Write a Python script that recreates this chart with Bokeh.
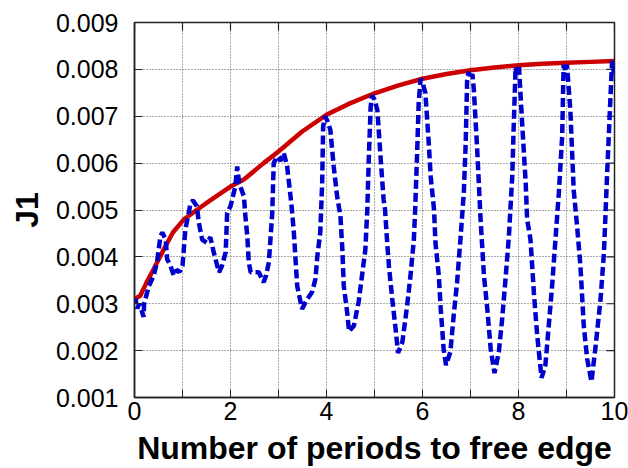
import math
from bokeh.plotting import figure
from bokeh.models import FixedTicker, PrintfTickFormatter, Range1d
from bokeh.embed import file_html
from bokeh.resources import INLINE

# ---- data ----
x_blue = [0.00, 0.02, 0.06, 0.10, 0.15, 0.19, 0.20, 0.30, 0.40, 0.47, 0.54, 0.58,
          0.65, 0.68, 0.75, 0.82, 0.88, 0.94, 1.00, 1.06, 1.13, 1.17, 1.22, 1.30,
          1.34, 1.41, 1.51, 1.58, 1.65, 1.76, 1.82, 1.90, 1.93, 2.00, 2.10, 2.14,
          2.18, 2.28, 2.31, 2.35, 2.38, 2.42, 2.59, 2.69, 2.74, 2.80, 2.87, 2.90,
          2.97, 3.04, 3.11, 3.18, 3.25, 3.28, 3.32, 3.35, 3.39, 3.46, 3.49, 3.60,
          3.70, 3.77, 3.81, 3.87, 3.91, 3.93, 3.97, 4.01, 4.08, 4.15, 4.22, 4.29,
          4.33, 4.36, 4.43, 4.47, 4.57, 4.67, 4.74, 4.81, 4.85, 4.88, 4.92, 4.95,
          5.00, 5.06, 5.13, 5.19, 5.22, 5.26, 5.30, 5.37, 5.44, 5.49, 5.58, 5.68,
          5.75, 5.82, 5.85, 5.89, 5.92, 5.96, 6.01, 6.06, 6.13, 6.17, 6.24, 6.27,
          6.34, 6.38, 6.44, 6.49, 6.58, 6.65, 6.72, 6.79, 6.86, 6.90, 6.93, 6.96,
          7.00, 7.04, 7.07, 7.14, 7.21, 7.28, 7.35, 7.42, 7.50, 7.59, 7.66, 7.73,
          7.80, 7.87, 7.90, 7.94, 7.98, 8.01, 8.08, 8.15, 8.18, 8.25, 8.32, 8.39,
          8.48, 8.56, 8.63, 8.70, 8.77, 8.84, 8.91, 8.94, 8.98, 9.01, 9.08, 9.15,
          9.22, 9.29, 9.36, 9.43, 9.52, 9.60, 9.71, 9.78, 9.85, 9.92, 9.95, 9.99]
y_blue = [0.00300, 0.00310, 0.00290, 0.00300, 0.00285, 0.00272, 0.00300, 0.00338,
          0.00360, 0.00389, 0.00444, 0.00452, 0.00437, 0.00395, 0.00381, 0.00360,
          0.00372, 0.00368, 0.00381, 0.00459, 0.00494, 0.00516, 0.00520, 0.00508,
          0.00473, 0.00437, 0.00430, 0.00442, 0.00410, 0.00367, 0.00380, 0.00410,
          0.00494, 0.00508, 0.00550, 0.00593, 0.00557, 0.00529, 0.00487, 0.00444,
          0.00389, 0.00367, 0.00367, 0.00346, 0.00360, 0.00389, 0.00494, 0.00600,
          0.00614, 0.00605, 0.00622, 0.00593, 0.00530, 0.00500, 0.00452, 0.00402,
          0.00338, 0.00303, 0.00289, 0.00310, 0.00325, 0.00353, 0.00402, 0.00452,
          0.00558, 0.00678, 0.00700, 0.00692, 0.00671, 0.00593, 0.00530, 0.00487,
          0.00416, 0.00338, 0.00282, 0.00241, 0.00253, 0.00304, 0.00360, 0.00416,
          0.00501, 0.00607, 0.00720, 0.00745, 0.00735, 0.00713, 0.00607, 0.00522,
          0.00500, 0.00437, 0.00381, 0.00310, 0.00246, 0.00195, 0.00218, 0.00296,
          0.00360, 0.00437, 0.00508, 0.00628, 0.00727, 0.00780, 0.00768, 0.00750,
          0.00643, 0.00572, 0.00501, 0.00430, 0.00360, 0.00289, 0.00204, 0.00169,
          0.00197, 0.00275, 0.00345, 0.00437, 0.00536, 0.00643, 0.00777, 0.00795,
          0.00780, 0.00790, 0.00756, 0.00628, 0.00480, 0.00360, 0.00289, 0.00204,
          0.00152, 0.00197, 0.00268, 0.00353, 0.00444, 0.00572, 0.00678, 0.00805,
          0.00790, 0.00805, 0.00678, 0.00558, 0.00480, 0.00437, 0.00324, 0.00232,
          0.00142, 0.00169, 0.00253, 0.00338, 0.00437, 0.00536, 0.00657, 0.00810,
          0.00795, 0.00810, 0.00713, 0.00543, 0.00466, 0.00381, 0.00253, 0.00183,
          0.00134, 0.00204, 0.00310, 0.00409, 0.00586, 0.00749, 0.00818, 0.00790]

x_red = [0.00, 0.12, 0.25, 0.40, 0.61, 0.80, 1.03, 1.31, 1.60, 2.00, 2.28, 2.69,
         3.00, 3.50, 4.00, 4.50, 5.00, 5.50, 6.00, 6.50, 7.00, 7.50, 8.00, 8.50,
         9.00, 9.50, 10.00]
y_red = [0.00310, 0.00317, 0.00345, 0.00374, 0.00416, 0.00452, 0.00480, 0.00501,
         0.00522, 0.00550, 0.00565, 0.00600, 0.00625, 0.00668, 0.00703, 0.00728,
         0.00749, 0.00766, 0.00780, 0.00790, 0.00798, 0.00804, 0.00809, 0.00812,
         0.00814, 0.00816, 0.00818]

x_tick_values = [0, 2, 4, 6, 8, 10]
x_tick_labels = ["0", "2", "4", "6", "8", "10"]
x_minor_ticks = [1, 3, 5, 7, 9]
y_ticks = [0.001, 0.002, 0.003, 0.004, 0.005, 0.006, 0.007, 0.008, 0.009]
x_label = "Number of periods to free edge"
y_label = "J1"

FONT = "Liberation Sans"
DARK = "#222222"

x_all = sorted(x_tick_values + x_minor_ticks)
x_min, x_max = x_all[0], x_all[-1]
y_min, y_max = y_ticks[0], y_ticks[-1]

p = figure(width=628, height=468, x_range=Range1d(x_min, x_max), y_range=Range1d(y_min, y_max),
           output_backend="svg", toolbar_location=None,
           min_border_left=134, min_border_right=14, min_border_top=22, min_border_bottom=69)
p.background_fill_color = "white"
p.border_fill_color = "white"
p.outline_line_color = DARK
p.outline_line_width = 1.5

xa = p.xaxis[0]
xa.ticker = FixedTicker(ticks=x_tick_values, minor_ticks=x_minor_ticks)
xa.major_label_overrides = {t: lab for t, lab in zip(x_tick_values, x_tick_labels)}
ya = p.yaxis[0]
ya.ticker = FixedTicker(ticks=y_ticks)
ya.formatter = PrintfTickFormatter(format="%.3f")

for ax in (xa, ya):
    ax.major_tick_in = 8
    ax.major_tick_out = 0
    ax.minor_tick_in = 8
    ax.minor_tick_out = 0
    ax.axis_line_color = DARK
    ax.axis_line_width = 1.5
    ax.major_tick_line_color = DARK
    ax.minor_tick_line_color = DARK
    ax.major_label_text_font = FONT
    ax.major_label_text_font_size = "25px"
    ax.major_label_text_color = "black"
    ax.axis_label_text_font = FONT
    ax.axis_label_text_font_style = "bold"
    ax.axis_label_text_color = "black"
    ax.axis_label_text_font_size = "32px"

xa.axis_label = x_label
xa.major_label_standoff = 4
xa.axis_label_standoff = 7
ya.axis_label = y_label
ya.major_label_standoff = 16
ya.axis_label_standoff = 8

for g in (p.xgrid[0], p.ygrid[0]):
    g.grid_line_color = "#555555"
    g.grid_line_dash = "1 2"
    g.grid_line_width = 1
p.xgrid[0].ticker = FixedTicker(ticks=x_all)
p.ygrid[0].ticker = FixedTicker(ticks=y_ticks)

# inward tick marks on the top and right frame edges (clipped to the frame)
p.scatter(x_all, [y_max] * len(x_all), marker="dash", size=16, angle=math.pi / 2,
          line_color=DARK, line_width=1.2)
p.scatter([x_max] * len(y_ticks), y_ticks, marker="dash", size=16,
          line_color=DARK, line_width=1.2)

p.line(x_red, y_red, line_color="#cc0000", line_width=4.5)
p.line(x_blue, y_blue, line_color="#0000cc", line_width=4.5, line_dash="9 4")

open("out.html", "w").write(file_html(p, INLINE))
